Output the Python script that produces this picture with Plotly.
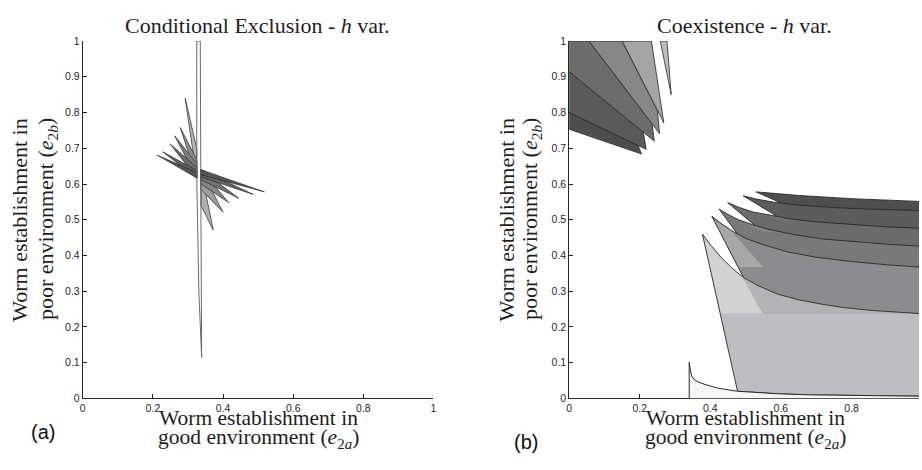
import plotly.graph_objects as go

W, H = 922, 470

# ---------------- data: panel (a) Conditional Exclusion ----------------
ce_strip_x = [0.325, 0.325, 0.331, 0.339, 0.337, 0.335]
ce_strip_y = [1.0, 0.62, 0.30, 0.114, 0.50, 1.0]

ce_left_pivot = (0.325, 0.617)
ce_left_tip_x = [0.292, 0.278, 0.262, 0.249, 0.228, 0.212]
ce_left_tip_y = [0.840, 0.758, 0.735, 0.712, 0.690, 0.681]
ce_left_base_y = [0.700, 0.668, 0.657, 0.647, 0.638, 0.632]
ce_left_colors = ['#b4b4b4', '#8e8e8e', '#7c7c7c', '#6c6c6c', '#606060', '#575757']

ce_right_pivot = (0.337, 0.640)
ce_right_tip_x = [0.372, 0.400, 0.416, 0.445, 0.486, 0.518]
ce_right_tip_y = [0.471, 0.521, 0.548, 0.560, 0.571, 0.578]
ce_right_base_y = [0.540, 0.585, 0.600, 0.612, 0.620, 0.626]
ce_right_colors = ['#b0b0b0', '#9c9c9c', '#868686', '#727272', '#626262', '#565656']

# ---------------- data: panel (b) Coexistence ----------------
# upper-left cluster
tl_start_x = [0.0, 0.0, 0.0, 0.056, 0.150]
tl_start_y = [0.753, 0.800, 0.914, 1.0, 1.0]
tl_tip_x = [0.205, 0.218, 0.241, 0.256, 0.268]
tl_tip_y = [0.684, 0.697, 0.720, 0.741, 0.771]
tl_notch_x = [0.195, 0.210, 0.235, 0.250]
tl_notch_y = [0.708, 0.745, 0.768, 0.806]
tl_last_top_x = 0.233
tl_colors = ['#4e4e4e', '#5a5a5a', '#6c6c6c', '#878787', '#a4a4a4']
tl_sliver_x = [0.258, 0.289, 0.277]
tl_sliver_y = [1.0, 0.850, 1.0]

# lower-right cluster: upper boundary curves of each sheet (tip first)
curve_f = [(0.530, 0.578), (0.65, 0.568), (0.80, 0.559), (1.0, 0.551)]
curve_e = [(0.493, 0.567), (0.53, 0.558), (0.58, 0.549), (0.65, 0.541), (0.75, 0.534), (0.87, 0.529), (1.0, 0.526)]
curve_d = [(0.449, 0.548), (0.48, 0.535), (0.52, 0.522), (0.57, 0.512), (0.63, 0.502), (0.70, 0.494), (0.80, 0.486), (0.90, 0.480), (1.0, 0.476)]
curve_c = [(0.4245, 0.530), (0.45, 0.515), (0.48, 0.500), (0.52, 0.486), (0.57, 0.472), (0.64, 0.458), (0.72, 0.446), (0.82, 0.437), (0.91, 0.431), (1.0, 0.426)]
curve_b = [(0.404, 0.510), (0.43, 0.490), (0.46, 0.470), (0.50, 0.448), (0.55, 0.430), (0.62, 0.410), (0.70, 0.395), (0.80, 0.383), (0.90, 0.374), (1.0, 0.367)]
curve_a = [(0.3775, 0.460), (0.40, 0.430), (0.43, 0.395), (0.46, 0.366), (0.493, 0.339), (0.53, 0.318), (0.59, 0.292), (0.65, 0.276), (0.72, 0.263), (0.78, 0.254), (0.86, 0.246), (0.93, 0.241), (1.0, 0.237)]
# hidden lower corners of sheets b..f (right edge point, point along left edge)
sheet_hidden = {
    'f': [(1.0, 0.50), (0.645, 0.527)],
    'e': [(1.0, 0.45), (0.657, 0.469)],
    'd': [(1.0, 0.39), (0.598, 0.424)],
    'c': [(1.0, 0.30), (0.553, 0.359)],
    'b': [(1.0, 0.10), (0.540, 0.250)],
}
sheet_colors = {'f': '#4f4f4f', 'e': '#5c5c5c', 'd': '#6b6b6b', 'c': '#797979', 'b': '#8c8c8e', 'a': '#bebec2'}
# bottom boundary curve
bottom_curve = [(0.340, 0.0), (0.340, 0.101), (0.343, 0.080), (0.347, 0.063), (0.355, 0.052), (0.368, 0.045),
                (0.385, 0.039), (0.42, 0.029), (0.477, 0.020), (0.52, 0.017), (0.59, 0.013), (0.68, 0.010),
                (0.80, 0.008), (0.90, 0.007), (1.0, 0.006)]
sheet_a_foot = 0.477
# lighter inner patches
wedge_a = [(0.381, 0.452), (0.40, 0.430), (0.43, 0.395), (0.46, 0.366), (0.491, 0.338), (0.547, 0.238), (0.430, 0.238)]
band_a = [(0.493, 0.339), (0.53, 0.318), (0.59, 0.292), (0.65, 0.276), (0.72, 0.263), (0.78, 0.254), (0.86, 0.246),
          (0.93, 0.241), (1.0, 0.237), (1.0, 0.236), (0.549, 0.236)]
wedge_b = [(0.407, 0.503), (0.43, 0.488), (0.46, 0.468), (0.549, 0.368), (0.481, 0.368)]
wedge_c = [(0.482, 0.498), (0.52, 0.485), (0.57, 0.471), (0.60, 0.466), (0.55, 0.466)]
wedge_d = [(0.528, 0.520), (0.57, 0.511), (0.63, 0.501), (0.66, 0.498), (0.60, 0.498)]

ticks = [0, 0.2, 0.4, 0.6, 0.8, 1.0]
tick_text = ['0', '0.2', '0.4', '0.6', '0.8', '1']
yticks = [0, 0.1, 0.2, 0.3, 0.4, 0.5, 0.6, 0.7, 0.8, 0.9, 1.0]
ytick_text = ['0', '0.1', '0.2', '0.3', '0.4', '0.5', '0.6', '0.7', '0.8', '0.9', '1']

# ---------------- figure ----------------
fig = go.Figure()
EDGE = '#2a2a2a'


def add_poly(pts, fill, line=EDGE, width=0.8, panel=1, closed=True):
    xs = [p[0] for p in pts]
    ys = [p[1] for p in pts]
    if closed:
        xs.append(xs[0])
        ys.append(ys[0])
    fig.add_trace(go.Scatter(
        x=xs, y=ys, mode='lines',
        fill='toself' if fill else 'none', fillcolor=fill if fill else None,
        line=dict(color=line, width=width),
        xaxis='x' if panel == 1 else 'x2', yaxis='y' if panel == 1 else 'y2',
        hoverinfo='skip', showlegend=False))


# panel (a): fans
for tx, ty, by, col in zip(ce_left_tip_x, ce_left_tip_y, ce_left_base_y, ce_left_colors):
    add_poly([(tx, ty), (ce_left_pivot[0], by), ce_left_pivot], col, width=0.7)
for tx, ty, by, col in zip(ce_right_tip_x, ce_right_tip_y, ce_right_base_y, ce_right_colors):
    add_poly([(tx, ty), (ce_right_pivot[0], by), ce_right_pivot], col, width=0.7)
add_poly(list(zip(ce_strip_x, ce_strip_y)), None, line='#6a6a6a', width=1.0)

# panel (b): upper-left cluster
n = len(tl_tip_x)
for i in range(n):
    b0 = (tl_start_x[i], tl_start_y[i])
    t = (tl_tip_x[i], tl_tip_y[i])
    if i < n - 1:
        b1 = (tl_start_x[i + 1], tl_start_y[i + 1])
        pts = [b0, t, (tl_notch_x[i], tl_notch_y[i]), b1]
        if b0[0] == 0 and b1[1] == 1.0 and b1[0] > 0:
            pts.append((0.0, 1.0))
    else:
        pts = [b0, t, (tl_last_top_x, 1.0)]
    add_poly(pts, tl_colors[i], width=0.8, panel=2)
add_poly(list(zip(tl_sliver_x, tl_sliver_y)), '#bdbdbd', width=0.8, panel=2)

# panel (b): lower-right sheets, top to bottom
curves = {'f': curve_f, 'e': curve_e, 'd': curve_d, 'c': curve_c, 'b': curve_b}
inner = {'b': (wedge_b, '#a7a7a8'), 'c': (wedge_c, '#858585'), 'd': (wedge_d, '#747474')}
for key in ['f', 'e', 'd', 'c', 'b']:
    pts = curves[key] + sheet_hidden[key]
    add_poly(pts, sheet_colors[key], width=0, panel=2)
    if key in inner:
        add_poly(inner[key][0], inner[key][1], width=0, panel=2)
    add_poly(pts, None, width=0.9, panel=2)

# sheet a
foot = [p for p in bottom_curve if p[0] >= sheet_a_foot]
pts_a = curve_a + list(reversed(foot))
add_poly(pts_a, sheet_colors['a'], width=0, panel=2)
add_poly(band_a, '#b3b3b5', width=0, panel=2)
add_poly(wedge_a, '#d3d3d4', width=0, panel=2)
add_poly(pts_a, None, width=0.9, panel=2)

# region under bottom curve
under = bottom_curve + [(1.0, 0.0)]
add_poly(under, '#f6f6f6', width=0, panel=2)
add_poly(bottom_curve, None, width=1.0, panel=2, closed=False)

# ---------------- axes ----------------
ax_common = dict(showgrid=False, zeroline=False, showline=True, linecolor='#262626', linewidth=1,
                 ticks='inside', ticklen=4, tickcolor='#262626', tickwidth=1,
                 tickfont=dict(family='Liberation Sans', size=10.5, color='#262626'))
ydom = [1 - 402.7 / H, 1 - 36.0 / H]
fig.update_layout(
    width=W, height=H, margin=dict(l=0, r=0, t=0, b=0),
    paper_bgcolor='white', plot_bgcolor='rgba(0,0,0,0)',
    xaxis=dict(domain=[80.3 / W, 433.3 / W], range=[0, 1], anchor='y', tickvals=ticks, ticktext=tick_text,
               layer='above traces', **ax_common),
    yaxis=dict(domain=ydom, range=[0, 1], anchor='x', tickvals=yticks, ticktext=ytick_text,
               layer='above traces', **ax_common),
    xaxis2=dict(domain=[570.0 / W, 1.0], range=[0, 352.0 / 355.0], anchor='y2', tickvals=ticks[:-1],
                ticktext=tick_text[:-1], layer='below traces', **ax_common),
    yaxis2=dict(domain=ydom, range=[0, 1], anchor='x2', tickvals=yticks, ticktext=ytick_text,
                layer='below traces', **ax_common),
)

SERIF = 'Liberation Serif'
TXT = '#1e1e1e'


def ann(text, px, py, size=22, family=SERIF, angle=0, color=TXT):
    fig.add_annotation(text=text, x=px / W, y=1 - py / H, xref='paper', yref='paper', showarrow=False,
                       xanchor='center', yanchor='middle', textangle=angle,
                       font=dict(family=family, size=size, color=color))


ann('Conditional Exclusion - <i>h</i> var.', 256.5, 20)
ann('Coexistence - <i>h</i> var.', 746.5, 20)
for cx in (256.7, 747.5):
    ann('Worm establishment in', cx, 423, size=21.5)
    ann('good environment (<i>e</i><sub>2<i>a</i></sub>)', cx, 444, size=21.5)
for (c1, c2) in ((16.5, 45), (506.5, 532)):
    ann('Worm establishment in', c1, 219, angle=-90)
    ann('poor environment (<i>e</i><sub>2<i>b</i></sub>)', c2, 219, angle=-90)
ann('(a)', 40, 437.5, size=20, family='Liberation Sans', color='#111111')
ann('(b)', 526, 447.5, size=20, family='Liberation Sans', color='#111111')

fig.write_html('out.html', config={'displayModeBar': False},
               post_script="document.body.style.margin='0px';document.body.style.overflow='hidden';")
